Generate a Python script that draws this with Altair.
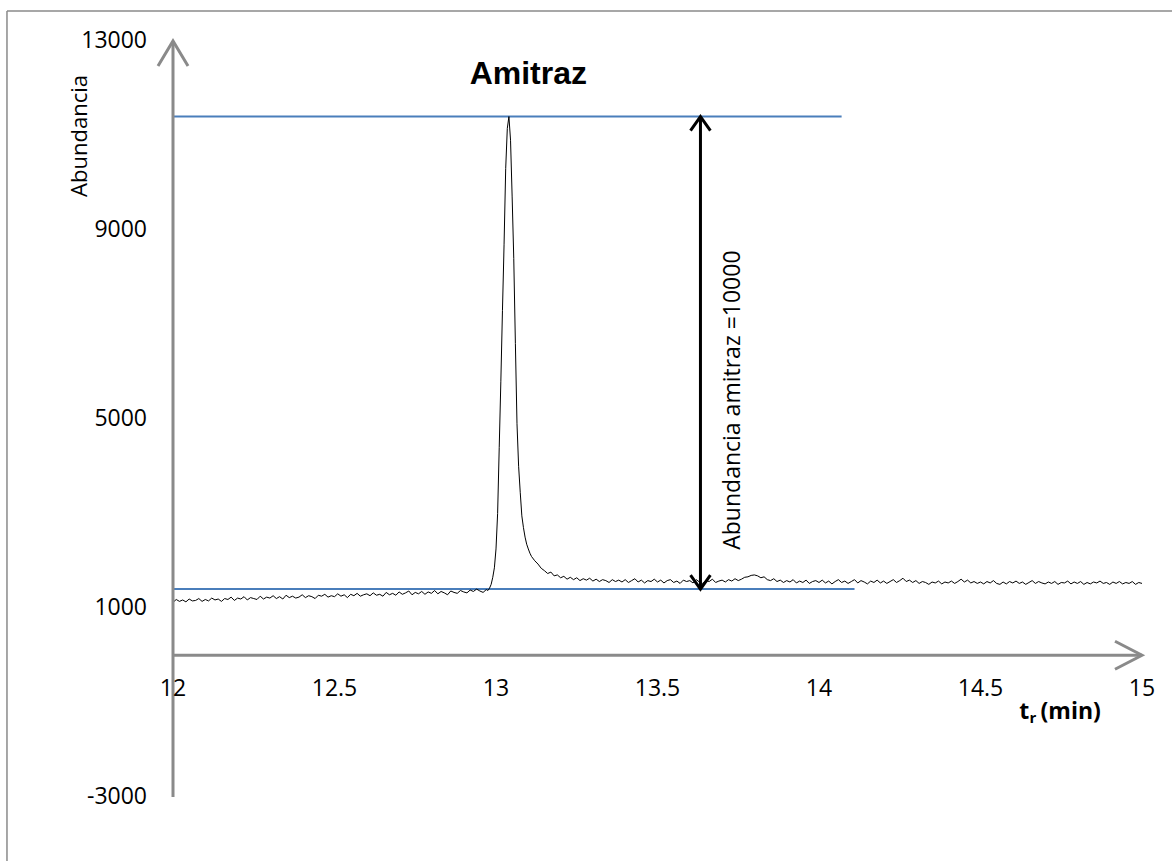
import altair as alt
import pandas as pd

# ---------------- data ----------------
t_min = [
    12.00, 12.01, 12.02, 12.03, 12.04, 12.05, 12.06, 12.07, 12.08, 12.09,
    12.10, 12.11, 12.12, 12.13, 12.14, 12.15, 12.16, 12.17, 12.18, 12.19,
    12.20, 12.21, 12.22, 12.23, 12.24, 12.25, 12.26, 12.27, 12.28, 12.29,
    12.30, 12.31, 12.32, 12.33, 12.34, 12.35, 12.36, 12.37, 12.38, 12.39,
    12.40, 12.41, 12.42, 12.43, 12.44, 12.45, 12.46, 12.47, 12.48, 12.49,
    12.50, 12.51, 12.52, 12.53, 12.54, 12.55, 12.56, 12.57, 12.58, 12.59,
    12.60, 12.61, 12.62, 12.63, 12.64, 12.65, 12.66, 12.67, 12.68, 12.69,
    12.70, 12.71, 12.72, 12.73, 12.74, 12.75, 12.76, 12.77, 12.78, 12.79,
    12.80, 12.81, 12.82, 12.83, 12.84, 12.85, 12.86, 12.87, 12.88, 12.89,
    12.90, 12.91, 12.92, 12.93, 12.94, 12.95, 12.96, 12.97,
    12.975, 12.980, 12.985, 12.990, 12.995, 13.000, 13.005, 13.010, 13.015,
    13.020, 13.025, 13.030, 13.035, 13.040, 13.045, 13.050, 13.055, 13.060,
    13.065, 13.070, 13.075, 13.080, 13.085, 13.090, 13.095, 13.100, 13.105,
    13.11, 13.12, 13.13, 13.14, 13.15, 13.16, 13.17, 13.18, 13.19,
    13.20, 13.21, 13.22, 13.23, 13.24, 13.25, 13.26, 13.27, 13.28, 13.29,
    13.30, 13.31, 13.32, 13.33, 13.34, 13.35, 13.36, 13.37, 13.38, 13.39,
    13.40, 13.41, 13.42, 13.43, 13.44, 13.45, 13.46, 13.47, 13.48, 13.49,
    13.50, 13.51, 13.52, 13.53, 13.54, 13.55, 13.56, 13.57, 13.58, 13.59,
    13.60, 13.61, 13.62, 13.63, 13.64, 13.65, 13.66, 13.67, 13.68, 13.69,
    13.70, 13.71, 13.72, 13.73, 13.74, 13.75, 13.76, 13.77, 13.78, 13.79,
    13.80, 13.81, 13.82, 13.83, 13.84, 13.85, 13.86, 13.87, 13.88, 13.89,
    13.90, 13.91, 13.92, 13.93, 13.94, 13.95, 13.96, 13.97, 13.98, 13.99,
    14.00, 14.01, 14.02, 14.03, 14.04, 14.05, 14.06, 14.07, 14.08, 14.09,
    14.10, 14.11, 14.12, 14.13, 14.14, 14.15, 14.16, 14.17, 14.18, 14.19,
    14.20, 14.21, 14.22, 14.23, 14.24, 14.25, 14.26, 14.27, 14.28, 14.29,
    14.30, 14.31, 14.32, 14.33, 14.34, 14.35, 14.36, 14.37, 14.38, 14.39,
    14.40, 14.41, 14.42, 14.43, 14.44, 14.45, 14.46, 14.47, 14.48, 14.49,
    14.50, 14.51, 14.52, 14.53, 14.54, 14.55, 14.56, 14.57, 14.58, 14.59,
    14.60, 14.61, 14.62, 14.63, 14.64, 14.65, 14.66, 14.67, 14.68, 14.69,
    14.70, 14.71, 14.72, 14.73, 14.74, 14.75, 14.76, 14.77, 14.78, 14.79,
    14.80, 14.81, 14.82, 14.83, 14.84, 14.85, 14.86, 14.87, 14.88, 14.89,
    14.90, 14.91, 14.92, 14.93, 14.94, 14.95, 14.96, 14.97, 14.98, 14.99,
    15.00,
]

abundance = [
    1120, 1180, 1140, 1170, 1130, 1190, 1150, 1160, 1200, 1140,
    1180, 1150, 1210, 1170, 1190, 1140, 1200, 1180, 1230, 1160,
    1210, 1190, 1240, 1170, 1220, 1200, 1180, 1250, 1190, 1230,
    1210, 1260, 1200, 1240, 1190, 1270, 1220, 1250, 1210, 1230,
    1280, 1220, 1260, 1240, 1200, 1270, 1250, 1290, 1230, 1260,
    1240, 1300, 1250, 1280, 1220, 1290, 1260, 1310, 1250, 1280,
    1300, 1260, 1320, 1270, 1290, 1250, 1330, 1280, 1310, 1270,
    1340, 1290, 1320, 1360, 1280, 1330, 1300, 1350, 1290, 1340,
    1310, 1370, 1300, 1350, 1320, 1280, 1360, 1330, 1310, 1370,
    1340, 1320, 1380, 1350, 1400, 1360, 1330, 1390,
    1370, 1420, 1500, 1650, 1850, 2250, 3000, 4400, 5800,
    7300, 8700, 10300, 11150, 11400, 10900, 9700, 8400, 6600,
    4900, 4000, 3450, 2950, 2700, 2500, 2350, 2250, 2160,
    2090, 2000, 1930, 1840, 1790, 1730, 1760, 1680, 1700,
    1640, 1670, 1610, 1650, 1600, 1640, 1580, 1620, 1590, 1630,
    1570, 1610, 1560, 1600, 1580, 1540, 1600, 1560, 1590, 1550,
    1600, 1540, 1580, 1620, 1550, 1590, 1530, 1580, 1560, 1610,
    1550, 1590, 1530, 1580, 1600, 1540, 1570, 1520, 1590, 1560,
    1580, 1530, 1600, 1550, 1520, 1580, 1560, 1610, 1540, 1570,
    1590, 1550, 1600, 1570, 1620, 1580, 1610, 1650, 1660, 1690,
    1700, 1680, 1640, 1660, 1600, 1580, 1620, 1560, 1590, 1540,
    1580, 1550, 1600, 1530, 1570, 1540, 1590, 1520, 1560, 1580,
    1540, 1590, 1530, 1570, 1510, 1560, 1600, 1540, 1570, 1520,
    1560, 1600, 1530, 1580, 1550, 1510, 1570, 1540, 1590, 1530,
    1570, 1520, 1560, 1600, 1540, 1580, 1630, 1560, 1590, 1540,
    1580, 1520, 1560, 1540, 1500, 1550, 1530, 1570, 1510, 1550,
    1530, 1570, 1520, 1560, 1610, 1550, 1590, 1530, 1560, 1520,
    1550, 1510, 1560, 1530, 1580, 1520, 1500, 1550, 1510, 1560,
    1530, 1570, 1520, 1550, 1500, 1540, 1580, 1520, 1560, 1530,
    1510, 1550, 1520, 1560, 1500, 1540, 1530, 1570, 1510, 1550,
    1520, 1560, 1500, 1540, 1510, 1550, 1530, 1570, 1520, 1540,
    1500, 1550, 1520, 1560, 1510, 1540, 1520, 1560, 1500, 1540,
    1520,
]

y_ticks = [-3000, 1000, 5000, 9000, 13000]
y_tick_labels = ["-3000", "1000", "5000", "9000", "13000"]
x_ticks = [12, 12.5, 13, 13.5, 14, 14.5, 15]
x_tick_labels = ["12", "12.5", "13", "13.5", "14", "14.5", "15"]

ref_levels = [11400, 1400]          # peak top and baseline reference lines
ref_x_end = [14.07, 14.11]
arrow_x = 13.633
annotation_text = "Abundancia amitraz =10000"
chart_title = "Amitraz"
y_title = "Abundancia"

# ---------------- chart ----------------
W, H = 969, 756
PAD_L, PAD_T = 173, 41
AXIS_GRAY = "#8a8a8a"
BLUE = "#4a7ebb"
FONT = "Open Sans"

xs = alt.Scale(domain=[12, 15], nice=False, zero=False)
ys = alt.Scale(domain=[-3000, 13000], nice=False, zero=False)


def X(f="x"):
    return alt.X(f"{f}:Q", scale=xs, axis=None)


def Y(f="y"):
    return alt.Y(f"{f}:Q", scale=ys, axis=None)


df = pd.DataFrame({"t": t_min, "a": abundance})

line = alt.Chart(df).mark_line(color="black", strokeWidth=1).encode(
    x=X("t"), y=Y("a")
)

# outer frame (left and top edges; right/bottom lie outside the picture)
frame_df = pd.DataFrame({"x": [11.486, 11.486], "x2": [11.486, 15.2],
                         "y": [-5000, 13635], "y2": [13635, 13635]})
frame = alt.Chart(frame_df).mark_rule(color=AXIS_GRAY, strokeWidth=1.5).encode(
    x=X(), x2="x2:Q", y=Y(), y2="y2:Q"
)

# axis lines
yaxis_df = pd.DataFrame({"x": [12], "y": [-3000], "y2": [13000]})
xaxis_df = pd.DataFrame({"x": [12], "x2": [15], "y": [0]})
yaxis_line = alt.Chart(yaxis_df).mark_rule(color=AXIS_GRAY, strokeWidth=3).encode(
    x=X(), y=Y(), y2="y2:Q"
)
xaxis_line = alt.Chart(xaxis_df).mark_rule(color=AXIS_GRAY, strokeWidth=3).encode(
    x=X(), x2="x2:Q", y=Y()
)
yhead = alt.Chart(pd.DataFrame({"x": [12], "y": [13000]})).mark_point(
    shape="M -0.6 1 L 0 0 L 0.6 1", filled=False, stroke=AXIS_GRAY,
    strokeWidth=3, size=2500, opacity=1,
).encode(x=X(), y=Y())
xhead = alt.Chart(pd.DataFrame({"x": [15], "y": [0]})).mark_point(
    shape="M -1 -0.52 L 0 0 L -1 0.52", filled=False, stroke=AXIS_GRAY,
    strokeWidth=3, size=2916, opacity=1,
).encode(x=X(), y=Y())

# tick labels
xlab = alt.Chart(pd.DataFrame({"x": x_ticks, "lab": x_tick_labels, "y": [0] * len(x_ticks)})).mark_text(
    font=FONT, fontSize=23, color="black", dy=34, baseline="middle", align="center"
).encode(x=X(), y=Y(), text="lab:N")
ylab = alt.Chart(pd.DataFrame({"y": y_ticks, "lab": y_tick_labels, "x": [12] * len(y_ticks)})).mark_text(
    font=FONT, fontSize=23, color="black", dx=-26, baseline="middle", align="right"
).encode(x=X(), y=Y(), text="lab:N")
ytitle = alt.Chart(pd.DataFrame({"x": [11.712], "y": [10990], "txt": [y_title]})).mark_text(
    font=FONT, fontSize=22, color="black", angle=270, align="center", baseline="middle"
).encode(x=X(), y=Y(), text="txt:N")

# blue reference lines
ref_df = pd.DataFrame({"x": [12, 12], "x2": ref_x_end, "y": ref_levels})
ref_lines = alt.Chart(ref_df).mark_rule(color=BLUE, strokeWidth=2).encode(
    x=X(), x2="x2:Q", y=Y()
)

# double arrow
arr_df = pd.DataFrame({"x": [arrow_x], "y": [ref_levels[1]], "y2": [ref_levels[0]]})
arr_line = alt.Chart(arr_df).mark_rule(color="black", strokeWidth=3).encode(
    x=X(), y=Y(), y2="y2:Q"
)
arr_top = alt.Chart(pd.DataFrame({"x": [arrow_x], "y": [ref_levels[0]]})).mark_point(
    shape="M -0.71 1 L 0 0 L 0.71 1", filled=False, stroke="black",
    strokeWidth=3, size=784, opacity=1,
).encode(x=X(), y=Y())
arr_bot = alt.Chart(pd.DataFrame({"x": [arrow_x], "y": [ref_levels[1]]})).mark_point(
    shape="M -0.71 -1 L 0 0 L 0.71 -1", filled=False, stroke="black",
    strokeWidth=3, size=784, opacity=1,
).encode(x=X(), y=Y())

# annotation text
ann = alt.Chart(pd.DataFrame({"x": [13.735], "y": [5400], "txt": [annotation_text]})).mark_text(
    font=FONT, fontSize=23, color="black", angle=270, align="center", baseline="middle"
).encode(x=X(), y=Y(), text="txt:N")

title = alt.Chart(pd.DataFrame({"x": [13.1], "y": [12300], "txt": [chart_title]})).mark_text(
    font="Liberation Sans", fontSize=32, fontWeight="bold", color="black",
    align="center", baseline="middle"
).encode(x=X(), y=Y(), text="txt:N")

# x axis title  t_r (min)
xt_main = alt.Chart(pd.DataFrame({"x": [14.62, 14.686], "y": [-1200, -1200], "txt": ["t", "(min)"]})).mark_text(
    font=FONT, fontSize=23, fontWeight="bold", color="black", align="left", baseline="middle"
).encode(x=X(), y=Y(), text="txt:N")
xt_sub = alt.Chart(pd.DataFrame({"x": [14.652], "y": [-1330], "txt": ["r"]})).mark_text(
    font=FONT, fontSize=15, fontWeight="bold", color="black", align="left", baseline="middle"
).encode(x=X(), y=Y(), text="txt:N")

chart = alt.layer(
    frame, ref_lines, line, yaxis_line, xaxis_line, yhead, xhead, xlab, ylab, ytitle,
    arr_line, arr_top, arr_bot, ann, title, xt_main, xt_sub,
).properties(
    width=W, height=H,
    padding={"left": PAD_L, "top": PAD_T, "right": 1172 - PAD_L - W, "bottom": 861 - PAD_T - H},
    autosize=alt.AutoSizeParams(type="none"),
    background="white",
).configure_view(stroke=None)

chart.save("out.html", embed_options={"renderer": "svg", "actions": False})
